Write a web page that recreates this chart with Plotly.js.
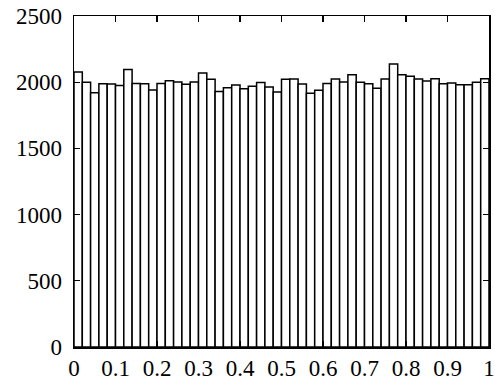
<!DOCTYPE html>
<html>
<head>
<meta charset="utf-8">
<script src="https://cdn.plot.ly/plotly-3.0.1.min.js"></script>
<style>html,body{margin:0;padding:0;background:#fff;}#chart{width:495px;height:381px;}</style>
</head>
<body>
<div id="chart"></div>
<script>
// Histogram: 50 bins over [0, 1]
const binStart = 0;
const binWidth = 0.02;
const counts = [
  2077, 1999, 1921, 1989, 1986, 1976, 2095, 1991, 1989, 1941,
  1991, 2011, 2001, 1984, 2001, 2069, 2022, 1929, 1959, 1979,
  1951, 1969, 1997, 1964, 1926, 2022, 2024, 1986, 1916, 1939,
  1991, 2024, 2001, 2057, 1999, 1989, 1954, 2024, 2137, 2057,
  2044, 2024, 2009, 2026, 1989, 1994, 1981, 1981, 1999, 2026
];
const xTickVals = [0, 0.1, 0.2, 0.3, 0.4, 0.5, 0.6, 0.7, 0.8, 0.9, 1];
const xTickText = ['0', '0.1', '0.2', '0.3', '0.4', '0.5', '0.6', '0.7', '0.8', '0.9', '1'];
const yTickVals = [0, 500, 1000, 1500, 2000, 2500];
const yTickText = ['0', '500', '1000', '1500', '2000', '2500'];

const centers = counts.map((_, i) => binStart + (i + 0.5) * binWidth);

const trace = {
  type: 'bar',
  x: centers,
  y: counts,
  width: binWidth,
  marker: {color: '#ffffff', line: {color: '#000000', width: 1.5}},
  hoverinfo: 'skip'
};

const font = {family: 'Liberation Serif, Times New Roman, DejaVu Serif, serif', size: 23, color: '#000'};

const layout = {
  width: 495, height: 381,
  margin: {l: 74, r: 6, t: 16, b: 34},
  paper_bgcolor: '#fff', plot_bgcolor: '#fff',
  showlegend: false,
  bargap: 0,
  font: font,
  xaxis: {
    range: [0, 1],
    tickvals: xTickVals, ticktext: xTickText,
    ticks: 'inside', ticklen: 6, tickwidth: 1.3, tickcolor: '#000',
    showline: true, linecolor: '#000', linewidth: 1.5, mirror: 'ticks',
    showgrid: false, zeroline: false,
    ticklabeloverflow: 'allow',
    tickfont: font
  },
  yaxis: {
    range: [0, 2500],
    tickvals: yTickVals, ticktext: yTickText,
    ticks: 'inside', ticklen: 6, tickwidth: 1.3, tickcolor: '#000',
    showline: true, linecolor: '#000', linewidth: 1.5, mirror: 'ticks',
    showgrid: false, zeroline: false,
    ticklabelstandoff: 6,
    ticklabeloverflow: 'allow',
    tickfont: font
  }
};

Plotly.newPlot('chart', [trace], layout, {displayModeBar: false, staticPlot: true});
</script>
</body>
</html>
